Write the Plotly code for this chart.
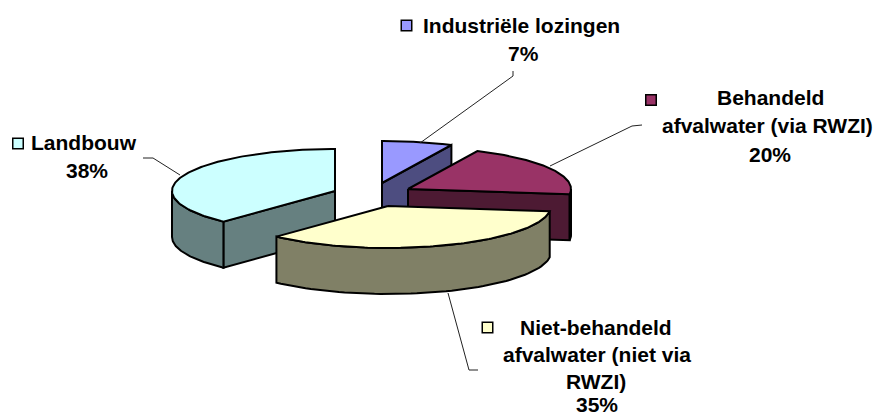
import numpy as np
import plotly.graph_objects as go

# Data
categories = ["Industriële lozingen", "Behandeld afvalwater (via RWZI)",
              "Niet-behandeld afvalwater (niet via RWZI)", "Landbouw"]
shares = [7, 20, 35, 38]
percent_labels = ["7%", "20%", "35%", "38%"]

# Styling / geometry (pixels of the 874x417 page)
top_colors = ["#9999FF", "#993366", "#FFFFCC", "#CCFFFF"]
side_colors = ["#4D4D80", "#4D1A33", "#808066", "#668080"]
apex_x = [382, 408, 388, 335]
apex_y = [183, 189, 206, 191]
RX, RY, DEPTH = 163, 42, 46
draw_order = [0, 1, 3, 2]

fig = go.Figure()


def poly(xs, ys, color, width=2):
    fig.add_trace(go.Scatter(x=list(xs), y=list(ys), mode="lines", fill="toself",
                             fillcolor=color, line=dict(color="black", width=width),
                             hoverinfo="skip", showlegend=False))


def point(i, a):
    r = np.radians(a)
    return apex_x[i] + RX * np.sin(r), apex_y[i] - RY * np.cos(r)


ends = np.cumsum(shares) / sum(shares) * 360.0
starts = np.concatenate([[0.0], ends[:-1]])

for i in draw_order:
    a0, a1 = starts[i], ends[i]
    # cut faces
    for a, visible in ((a0, 180 < a0 < 360), (a1, 0 < a1 < 180)):
        if visible:
            px, py = point(i, a)
            poly([apex_x[i], px, px, apex_x[i], apex_x[i]],
                 [apex_y[i], py, py + DEPTH, apex_y[i] + DEPTH, apex_y[i]], side_colors[i])
    # outer wall
    lo, hi = max(a0, 90), min(a1, 270)
    if lo < hi:
        t = np.linspace(lo, hi, 60)
        px, py = point(i, t)
        poly(np.r_[px, px[::-1], px[0]], np.r_[py, py[::-1] + DEPTH, py[0]], side_colors[i])
    # top
    t = np.linspace(a0, a1, 120)
    px, py = point(i, t)
    poly(np.r_[apex_x[i], px, apex_x[i]], np.r_[apex_y[i], py, apex_y[i]], top_colors[i])

# Leader lines
leaders = [
    ([513, 513, 420], [71, 76, 143]),
    ([642, 632, 550], [125, 126, 166]),
    ([478, 469, 448], [370, 370, 293]),
    ([143, 153, 180], [158, 158, 175]),
]
for lx, ly in leaders:
    fig.add_trace(go.Scatter(x=lx, y=ly, mode="lines", line=dict(color="#222222", width=1),
                             hoverinfo="skip", showlegend=False))

# Legend keys
key_x = [406.5, 651, 487.5, 18]
key_y = [25.5, 100, 327.5, 143.5]
for i in range(4):
    fig.add_trace(go.Scatter(x=[key_x[i]], y=[key_y[i]], mode="markers",
                             marker=dict(symbol="square", size=10.5, color=top_colors[i],
                                         line=dict(color="black", width=1.5)),
                             hoverinfo="skip", showlegend=False))

# Labels
label_lines = [
    (["Industriële lozingen", percent_labels[0]], [521, 523], [25, 53]),
    (["Behandeld", "afvalwater (via RWZI)", percent_labels[1]], [770, 767.5, 770], [97, 125, 154]),
    (["Niet-behandeld", "afvalwater (niet via", "RWZI)", percent_labels[2]],
     [596, 596.5, 596, 597], [327, 354, 381, 404.5]),
    (["Landbouw", percent_labels[3]], [84, 87], [142, 170]),
]
annotations = []
for lines, xs, ys in label_lines:
    for s, x, y in zip(lines, xs, ys):
        annotations.append(dict(x=x, y=y, text=f"<b>{s}</b>", showarrow=False,
                                xanchor="center", yanchor="middle",
                                font=dict(family="Liberation Sans", size=21, color="black")))

fig.update_layout(
    width=874, height=417, margin=dict(l=0, r=0, t=0, b=0),
    paper_bgcolor="white", plot_bgcolor="white", showlegend=False,
    annotations=annotations,
    xaxis=dict(range=[0, 874], visible=False, fixedrange=True),
    yaxis=dict(range=[417, 0], visible=False, fixedrange=True),
)
fig.write_html("out.html", config=dict(displayModeBar=False),
               post_script="document.body.style.margin='0';document.documentElement.style.overflow='hidden';")
